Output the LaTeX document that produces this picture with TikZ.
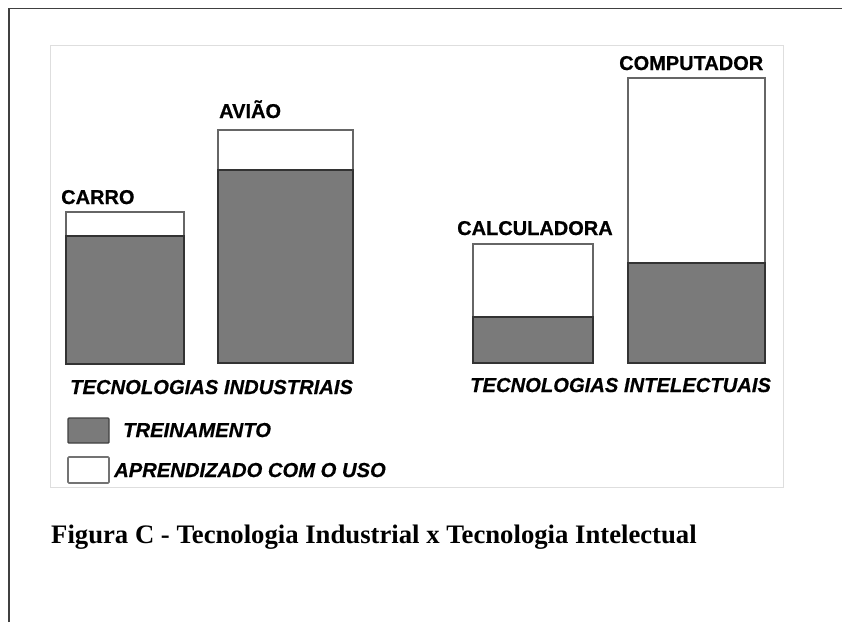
\documentclass[tikz,border=0pt]{standalone}
\usepackage{fontspec}
\setmainfont{Liberation Serif}
\newfontfamily\arialf[FakeBold=0.6]{Liberation Sans}
\begin{document}
\begin{tikzpicture}[x=1pt,y=-1pt,
  lbl/.style={anchor=base west,inner sep=0pt,font=\arialf\bfseries\fontsize{20}{22}\selectfont,text=black},
  ilbl/.style={lbl,font=\arialf\bfseries\itshape\fontsize{20.2}{22}\selectfont},
  barline/.style={draw=black!80,line width=1.6pt},
  whiteline/.style={draw=black!60,line width=1.6pt}]
\useasboundingbox (0,0) rectangle (842,622);
% outer frame
\draw[black!75,line width=1.3pt] (9,622) -- (9,8.5) -- (842,8.5);
% inner figure frame
\draw[black!13,line width=1pt] (50,45) rectangle (783,487);
% bars: x1,x2,top,split,bottom
\foreach \xa/\xb/\yt/\ys/\yb in {66/184/212/236/364, 218/353/130/170/363, 473/593/244/317/363, 628/765/78/263/363}{
  \fill[black!52] (\xa,\ys) rectangle (\xb,\yb);
  \draw[whiteline] (\xa,\ys) -- (\xa,\yt) -- (\xb,\yt) -- (\xb,\ys);
  \draw[barline] (\xa,\ys) rectangle (\xb,\yb);
}
% labels
\node[lbl] (carro) at (61,204) {CARRO};
\node[lbl] (aviao) at (219,118) {AVIÃO};
\node[lbl] (calc) at (457,235) {CALCULADORA};
\node[lbl] (comp) at (619,70) {COMPUTADOR};
\node[ilbl] (ind) at (70,394) {TECNOLOGIAS INDUSTRIAIS};
\node[ilbl] (int) at (470,392) {TECNOLOGIAS INTELECTUAIS};
% legend
\draw[black!75,fill=black!52,line width=1.4pt,rounded corners=1pt] (68,418) rectangle (109,443);
\node[ilbl] (trein) at (123,437) {TREINAMENTO};
\draw[black!55,fill=white,line width=1.6pt,rounded corners=1pt] (68,457) rectangle (109,483);
\node[ilbl] (apren) at (114,477) {APRENDIZADO COM O USO};
% caption
\node[anchor=base west,inner sep=0pt,font=\bfseries\fontsize{26.7}{30}\selectfont] (cap) at (51,543) {Figura C - Tecnologia Industrial x Tecnologia Intelectual};
\end{tikzpicture}
\end{document}
